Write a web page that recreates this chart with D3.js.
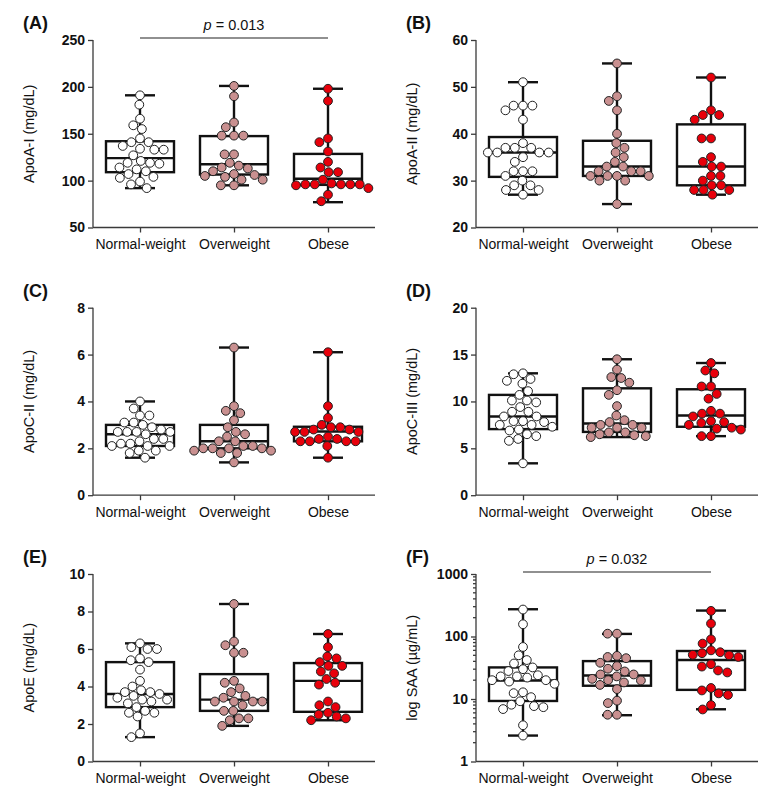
<!DOCTYPE html>
<html>
<head>
<meta charset="utf-8">
<script src="https://cdn.jsdelivr.net/npm/d3@7"></script>
<style>
  body { margin: 0; background: #fff; }
  svg { display: block; }
</style>
</head>
<body>
<svg id="chart" width="774" height="791"></svg>
<script>
var groups = ["Normal-weight", "Overweight", "Obese"];
var groupFill = ["#ffffff", "#c99090", "#e8000b"];

// ApoA-I (mg/dL)
var apoA1Normal = [191, 181, 166, 159, 155, 145, 141, 141, 137, 134, 133, 133, 127, 121, 119, 119, 118, 114, 112, 110, 107, 104, 103, 99, 96, 92];
var apoA1Over = [201, 190, 162, 157, 148, 148, 148, 128, 128, 119, 116, 114, 113, 110, 107, 106, 105, 104, 101, 101, 95, 95];
var apoA1Obese = [198, 185, 145, 141, 131, 120, 114, 109, 109, 101, 96, 96, 95, 96, 96, 96, 97, 92, 85, 78];
var apoA1Box = [[92, 109, 124, 142, 191], [95, 106.5, 117.5, 147.5, 201], [77, 95.5, 102, 128.5, 198]];

// ApoA-II (mg/dL)
var apoA2Normal = [51, 46, 46, 45, 46, 43, 38, 37, 37, 37, 36, 36, 36, 36, 35, 34, 32, 32, 32, 31, 30, 29, 29, 28, 28, 27];
var apoA2Over = [55, 48, 47, 45, 40, 38, 37, 36, 35, 34, 33, 33, 32, 32, 32, 31, 31, 31, 31, 30, 30, 25];
var apoA2Obese = [52, 45, 44, 44, 43, 39, 39, 35, 34, 33, 33, 31, 31, 30, 29, 29, 28, 28, 28, 27];
var apoA2Box = [[27, 30.8, 36, 39.3, 51], [25, 31, 33, 38.5, 55], [27, 29, 33, 42, 52]];

// ApoC-II (mg/dL)
var apoC2Normal = [4.0, 3.7, 3.4, 3.4, 3.1, 3.1, 3.0, 2.9, 2.8, 2.7, 2.7, 2.7, 2.7, 2.6, 2.4, 2.4, 2.3, 2.2, 2.2, 2.1, 2.1, 2.1, 1.9, 1.9, 1.8, 1.6];
var apoC2Over = [6.3, 3.8, 3.6, 3.5, 3.2, 2.9, 2.7, 2.6, 2.5, 2.3, 2.3, 2.1, 2.1, 2.0, 2.0, 2.0, 2.0, 1.9, 1.9, 1.8, 1.8, 1.4];
var apoC2Obese = [6.1, 3.8, 3.3, 3.0, 2.9, 2.9, 2.8, 2.8, 2.7, 2.7, 2.7, 2.5, 2.4, 2.4, 2.3, 2.3, 2.3, 2.3, 2.1, 1.6];
var apoC2Box = [[1.6, 2.1, 2.6, 3.0, 4.0], [1.4, 2.0, 2.3, 3.0, 6.3], [1.6, 2.3, 2.72, 2.92, 6.1]];

// ApoC-III (mg/dL)
var apoC3Normal = [13.0, 12.9, 12.4, 12.2, 11.9, 11.1, 10.7, 10.1, 10.1, 9.9, 9.4, 8.9, 8.9, 8.4, 8.4, 7.9, 7.9, 7.8, 7.5, 7.5, 7.3, 7.0, 6.9, 6.5, 6.3, 6.0, 5.8, 3.4];
var apoC3Over = [14.5, 13.4, 12.6, 12.5, 12.0, 11.2, 10.7, 9.5, 8.5, 8.0, 7.8, 7.5, 7.5, 7.2, 7.2, 7.2, 6.7, 6.7, 6.5, 6.4, 6.3, 6.2];
var apoC3Obese = [14.1, 13.3, 13.0, 11.6, 11.6, 10.8, 10.3, 9.0, 8.7, 8.7, 8.4, 7.9, 7.8, 7.7, 7.5, 7.2, 7.1, 7.0, 6.3, 6.3];
var apoC3Box = [[3.4, 7.05, 8.4, 10.7, 13.0], [6.2, 6.75, 7.65, 11.4, 14.5], [6.3, 7.3, 8.5, 11.3, 14.1]];

// ApoE (mg/dL)
var apoENormal = [6.3, 6.1, 6.0, 6.0, 5.5, 5.4, 5.3, 4.9, 4.3, 4.0, 3.8, 3.7, 3.7, 3.6, 3.5, 3.4, 3.3, 3.3, 3.2, 3.1, 2.9, 2.7, 2.6, 2.6, 2.4, 1.5, 1.3];
var apoEOver = [8.4, 6.4, 6.2, 5.8, 5.8, 4.3, 4.2, 3.9, 3.7, 3.5, 3.4, 3.2, 3.2, 3.2, 3.2, 3.0, 2.7, 2.7, 2.3, 2.3, 2.2, 1.9];
var apoEObese = [6.8, 6.1, 5.6, 5.5, 5.3, 5.1, 5.1, 4.8, 4.7, 4.4, 4.2, 4.1, 3.2, 3.0, 2.9, 2.6, 2.5, 2.4, 2.3, 2.2];
var apoEBox = [[1.3, 2.9, 3.6, 5.3, 6.3], [1.9, 2.7, 3.3, 4.66, 8.4], [2.2, 2.65, 4.3, 5.25, 6.8]];

// SAA (ug/mL), log axis
var saaNormal = [270, 157, 68, 50, 42, 37, 32, 30, 28, 24, 23, 23, 22, 20, 20, 19, 17.5, 12.8, 12.4, 10.7, 9.2, 8.1, 7.7, 7.4, 6.9, 3.8, 2.6];
var saaOver = [111, 111, 49, 47, 45, 38, 33.6, 30.5, 27.6, 24.7, 24.7, 23, 21, 20, 19.8, 18.4, 16.8, 14.4, 9.4, 8.6, 5.6, 5.6];
var saaObese = [257, 161, 90, 77, 60, 56, 54, 51, 50, 47, 36, 33, 28.6, 26.6, 15, 13.7, 12.3, 11.6, 8.0, 6.8];
var saaBox = [[2.6, 9.3, 19.8, 32, 273], [5.5, 16.3, 23.8, 40.4, 110], [6.85, 14, 42, 58.6, 260]];

var panels = [
  { tag: "(A)", title: "ApoA-I (mg/dL)", values: [apoA1Normal, apoA1Over, apoA1Obese], boxes: apoA1Box, domain: [50, 250], ticks: [50, 100, 150, 200, 250], p: "0.013" },
  { tag: "(B)", title: "ApoA-II (mg/dL)", values: [apoA2Normal, apoA2Over, apoA2Obese], boxes: apoA2Box, domain: [20, 60], ticks: [20, 30, 40, 50, 60] },
  { tag: "(C)", title: "ApoC-II (mg/dL)", values: [apoC2Normal, apoC2Over, apoC2Obese], boxes: apoC2Box, domain: [0, 8], ticks: [0, 2, 4, 6, 8] },
  { tag: "(D)", title: "ApoC-III (mg/dL)", values: [apoC3Normal, apoC3Over, apoC3Obese], boxes: apoC3Box, domain: [0, 20], ticks: [0, 5, 10, 15, 20] },
  { tag: "(E)", title: "ApoE (mg/dL)", values: [apoENormal, apoEOver, apoEObese], boxes: apoEBox, domain: [0, 10], ticks: [0, 2, 4, 6, 8, 10] },
  { tag: "(F)", title: "log SAA (\u00b5g/mL)", values: [saaNormal, saaOver, saaObese], boxes: saaBox, domain: [1, 1000], ticks: [1, 10, 100, 1000], log: true, p: "0.032" }
];

var colX = [93, 476];
var rowTop = [40, 307.7, 574];
var plotW = 282, plotH = 187.5;
var boxW = 68, capW = 30, r = 4.4;
var axisColor = "#3a3a3a";
var sans = "'Liberation Sans', Arial, sans-serif";
var narrow = "'Liberation Sans Narrow', 'Liberation Sans', Arial, sans-serif";

var svg = d3.select("#chart");

// simple beeswarm: place each dot at the free x offset closest to the centre
function swarm(ys, d) {
  var order = ys.map(function(y, i) { return i; }).sort(function(a, b) { return ys[a] - ys[b]; });
  var placed = [];
  var xs = new Array(ys.length);
  order.forEach(function(i) {
    var y = ys[i];
    var near = placed.filter(function(p) { return Math.abs(p.y - y) < d; });
    var cands = [0];
    near.forEach(function(p) {
      var dx = Math.sqrt(d * d - (p.y - y) * (p.y - y)) + 0.01;
      cands.push(p.x + dx, p.x - dx);
    });
    cands = cands.filter(function(c) {
      return near.every(function(p) { return (c - p.x) * (c - p.x) + (y - p.y) * (y - p.y) >= d * d - 0.1; });
    });
    cands.sort(function(a, b) { return Math.abs(a) - Math.abs(b) || a - b; });
    xs[i] = cands[0];
    placed.push({ x: cands[0], y: y });
  });
  return xs;
}

panels.forEach(function(pn, idx) {
  var ox = colX[idx % 2];
  var top = rowTop[Math.floor(idx / 2)];
  var g = svg.append("g").attr("transform", "translate(" + ox + "," + top + ")");

  var x = d3.scalePoint().domain(groups).range([0, plotW]).padding(0.5);
  var y = (pn.log ? d3.scaleLog() : d3.scaleLinear()).domain(pn.domain).range([plotH, 0]);

  // y axis
  var yAxis = d3.axisLeft(y).tickValues(pn.ticks).tickSize(5).tickPadding(3).tickFormat(d3.format("d"));
  var ya = g.append("g").call(yAxis);
  ya.select(".domain").attr("d", "M0,0V" + plotH);
  if (pn.log) {
    var minor = [];
    [1, 10, 100].forEach(function(b) { for (var k = 2; k <= 9; k++) minor.push(b * k); });
    ya.selectAll(".minor").data(minor).enter().append("line")
      .attr("class", "minor")
      .attr("x1", -3).attr("x2", 0)
      .attr("y1", function(d) { return y(d); }).attr("y2", function(d) { return y(d); });
  }

  // x axis
  var xAxis = d3.axisBottom(x).tickSize(5).tickPadding(4);
  var xa = g.append("g").attr("transform", "translate(0," + plotH + ")").call(xAxis);
  xa.select(".domain").attr("d", "M0,0H" + plotW);

  [ya, xa].forEach(function(a) {
    a.selectAll("path, line").attr("stroke", axisColor).attr("stroke-width", 1.3);
    a.selectAll("text").attr("fill", "#111");
  });
  ya.selectAll("text").style("font-family", narrow).style("font-size", "14px").style("font-weight", "bold");
  xa.selectAll("text").style("font-family", sans).style("font-size", "14px").attr("dy", "0.9em");

  // axis title
  g.append("text")
    .attr("transform", "translate(-64," + (plotH / 2) + ") rotate(-90)")
    .attr("text-anchor", "middle")
    .attr("dy", "0.35em")
    .style("font-family", sans)
    .style("font-size", "14.5px")
    .attr("fill", "#111")
    .text(pn.title);

  // panel tag
  g.append("text")
    .attr("x", -70).attr("y", -11)
    .style("font-family", narrow)
    .style("font-size", "18px")
    .style("font-weight", "bold")
    .attr("fill", "#111")
    .text(pn.tag);

  // significance bar
  if (pn.p) {
    g.append("line")
      .attr("x1", x(groups[0])).attr("x2", x(groups[2]))
      .attr("y1", -2).attr("y2", -2)
      .attr("stroke", "#222").attr("stroke-width", 1.2);
    var pt = g.append("text")
      .attr("x", x(groups[1])).attr("y", -10)
      .attr("text-anchor", "middle")
      .style("font-family", sans)
      .style("font-size", "14.5px")
      .attr("fill", "#111");
    pt.append("tspan").style("font-style", "italic").text("p");
    pt.append("tspan").text(" = " + pn.p);
  }

  // boxes
  var bx = g.selectAll("g.box").data(pn.boxes).enter().append("g").attr("class", "box")
    .attr("transform", function(d, i) { return "translate(" + x(groups[i]) + ",0)"; });
  bx.append("line")
    .attr("y1", function(d) { return y(d[0]); }).attr("y2", function(d) { return y(d[1]); });
  bx.append("line")
    .attr("y1", function(d) { return y(d[3]); }).attr("y2", function(d) { return y(d[4]); });
  bx.append("line")
    .attr("x1", -capW / 2).attr("x2", capW / 2)
    .attr("y1", function(d) { return y(d[0]); }).attr("y2", function(d) { return y(d[0]); });
  bx.append("line")
    .attr("x1", -capW / 2).attr("x2", capW / 2)
    .attr("y1", function(d) { return y(d[4]); }).attr("y2", function(d) { return y(d[4]); });
  bx.append("rect")
    .attr("x", -boxW / 2).attr("width", boxW)
    .attr("y", function(d) { return y(d[3]); })
    .attr("height", function(d) { return y(d[1]) - y(d[3]); })
    .attr("fill", "none");
  bx.append("line")
    .attr("x1", -boxW / 2).attr("x2", boxW / 2)
    .attr("y1", function(d) { return y(d[2]); }).attr("y2", function(d) { return y(d[2]); });
  bx.selectAll("line, rect").attr("stroke", "#111").attr("stroke-width", 2.4);

  // dots
  pn.values.forEach(function(vals, gi) {
    var ys = vals.map(function(v) { return y(v); });
    var xs = swarm(ys, 2 * r + 0.6);
    g.append("g").selectAll("circle").data(vals).enter().append("circle")
      .attr("cx", function(d, i) { return x(groups[gi]) + xs[i]; })
      .attr("cy", function(d) { return y(d); })
      .attr("r", r)
      .attr("fill", groupFill[gi])
      .attr("stroke", "#222")
      .attr("stroke-width", 1);
  });
});
</script>
</body>
</html>
